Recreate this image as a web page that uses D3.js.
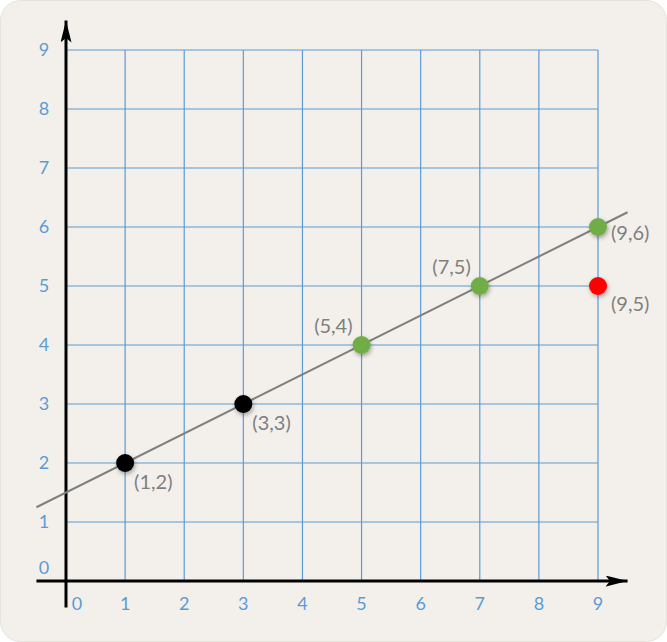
<!DOCTYPE html>
<html>
<head>
<meta charset="utf-8">
<script src="https://cdn.jsdelivr.net/npm/d3@7"></script>
<style>
  html, body { margin: 0; padding: 0; background: #ffffff; }
  svg { display: block; }
  text { font-family: Lato, "Open Sans", sans-serif; }
</style>
</head>
<body>
<div id="chart"></div>
<script>
// Chart values
const xTickLabels = [0, 1, 2, 3, 4, 5, 6, 7, 8, 9];
const yTickLabels = [0, 1, 2, 3, 4, 5, 6, 7, 8, 9];
const pointX = [1, 3, 5, 7, 9, 9];
const pointY = [2, 3, 4, 5, 6, 5];
const pointGroup = ["known", "known", "fitted", "fitted", "fitted", "actual"];
const pointLabel = ["(1,2)", "(3,3)", "(5,4)", "(7,5)", "(9,6)", "(9,5)"];
const trendX = [-0.5, 9.5];
const trendY = [1.25, 6.25];

const width = 667;
const height = 642;

/*******************************/
/*    Append the containers    */
/*******************************/
const svg = d3.select("#chart")
  .append("svg")
    .attr("width", width)
    .attr("height", height);

const defs = svg.append("defs");
const shadow = defs.append("filter")
    .attr("id", "shadow")
    .attr("x", "-50%").attr("y", "-50%")
    .attr("width", "200%").attr("height", "200%");
shadow.append("feDropShadow")
    .attr("dx", 1).attr("dy", 2)
    .attr("stdDeviation", 2)
    .attr("flood-color", "#000")
    .attr("flood-opacity", 0.35);

const marker = (id, w, h) => defs.append("marker")
    .attr("id", id)
    .attr("viewBox", "0 0 20 10")
    .attr("refX", 20).attr("refY", 5)
    .attr("markerUnits", "userSpaceOnUse")
    .attr("markerWidth", w).attr("markerHeight", h)
    .attr("orient", "auto")
  .append("path")
    .attr("d", "M0,0 L20,5 L0,10 L4,5 Z")
    .attr("fill", "#000");
marker("arrow", 22, 11);

// Background card
svg.append("rect")
    .attr("x", 0.5).attr("y", 0.5)
    .attr("width", width - 1).attr("height", height - 1)
    .attr("rx", 20)
    .attr("fill", "#f3f0eb")
    .attr("stroke", "#e6e2dc");

/****************************/
/*    Declare the scales    */
/****************************/
const xScale = d3.scaleLinear()
  .domain([0, 9])
  .range([66, 598]);

const yScale = d3.scaleLinear()
  .domain([0, 9])
  .range([581, 50]);

const colorScale = d3.scaleOrdinal()
  .domain(["known", "fitted", "actual"])
  .range(["#000000", "#70ad47", "#ff0000"]);

/***************************/
/*        Grid lines       */
/***************************/
const grid = svg.append("g").attr("class", "grid");
grid.selectAll(".grid-v")
  .data(xTickLabels.filter(d => d > 0))
  .join("line")
    .attr("class", "grid-v")
    .attr("x1", d => xScale(d)).attr("x2", d => xScale(d))
    .attr("y1", yScale(9)).attr("y2", yScale(0))
    .attr("stroke", "#5b9bd5")
    .attr("stroke-width", 1.2);
grid.selectAll(".grid-h")
  .data(yTickLabels.filter(d => d > 0))
  .join("line")
    .attr("class", "grid-h")
    .attr("x1", xScale(0)).attr("x2", xScale(9))
    .attr("y1", d => yScale(d)).attr("y2", d => yScale(d))
    .attr("stroke", "#5b9bd5")
    .attr("stroke-width", 1.2);

/***************************/
/*     Append the axes     */
/***************************/
svg.append("line")
    .attr("x1", xScale(-0.5)).attr("x2", xScale(9.5))
    .attr("y1", yScale(0)).attr("y2", yScale(0))
    .attr("stroke", "#000")
    .attr("stroke-width", 3)
    .attr("marker-end", "url(#arrow)");
svg.append("line")
    .attr("x1", xScale(0)).attr("x2", xScale(0))
    .attr("y1", yScale(-0.45)).attr("y2", yScale(9.5))
    .attr("stroke", "#000")
    .attr("stroke-width", 3)
    .attr("marker-end", "url(#arrow)");

// Tick labels
svg.selectAll(".x-label")
  .data(xTickLabels)
  .join("text")
    .attr("class", "x-label")
    .attr("x", d => xScale(d) + (d === 0 ? 11 : 0))
    .attr("y", yScale(0) + 23)
    .attr("dy", "0.35em")
    .attr("text-anchor", "middle")
    .attr("font-size", 18)
    .attr("fill", "#5b9bd5")
    .text(d => d);

svg.selectAll(".y-label")
  .data(yTickLabels)
  .join("text")
    .attr("class", "y-label")
    .attr("x", 44)
    .attr("y", d => yScale(d) - (d === 0 ? 13 : 0))
    .attr("dy", "0.35em")
    .attr("text-anchor", "middle")
    .attr("font-size", 18)
    .attr("fill", "#5b9bd5")
    .text(d => d);

/***************************/
/*       Trend line        */
/***************************/
const trend = trendX.map((x, i) => [x, trendY[i]]);
svg.append("path")
    .datum(trend)
    .attr("d", d3.line().x(d => xScale(d[0])).y(d => yScale(d[1])))
    .attr("fill", "none")
    .attr("stroke", "#7f7f7f")
    .attr("stroke-width", 2);

/***************************/
/*         Points          */
/***************************/
const points = pointX.map((x, i) => ({
  x, y: pointY[i], group: pointGroup[i], label: pointLabel[i], i
}));

svg.selectAll(".point")
  .data(points)
  .join("circle")
    .attr("class", "point")
    .attr("cx", d => xScale(d.x))
    .attr("cy", d => yScale(d.y))
    .attr("r", 9)
    .attr("fill", d => colorScale(d.group))
    .attr("filter", "url(#shadow)");

// label placement relative to the point
const labelOffset = [
  { dx: 9, dy: 19, anchor: "start" },
  { dx: 9, dy: 19, anchor: "start" },
  { dx: -9, dy: -19, anchor: "end" },
  { dx: -9, dy: -19, anchor: "end" },
  { dx: 13, dy: 6, anchor: "start" },
  { dx: 13, dy: 18, anchor: "start" }
];

svg.selectAll(".point-label")
  .data(points)
  .join("text")
    .attr("class", "point-label")
    .attr("x", d => xScale(d.x) + labelOffset[d.i].dx)
    .attr("y", d => yScale(d.y) + labelOffset[d.i].dy)
    .attr("dy", "0.35em")
    .attr("text-anchor", d => labelOffset[d.i].anchor)
    .attr("font-size", 20)
    .attr("fill", "#7f7f7f")
    .text(d => d.label);
</script>
</body>
</html>
